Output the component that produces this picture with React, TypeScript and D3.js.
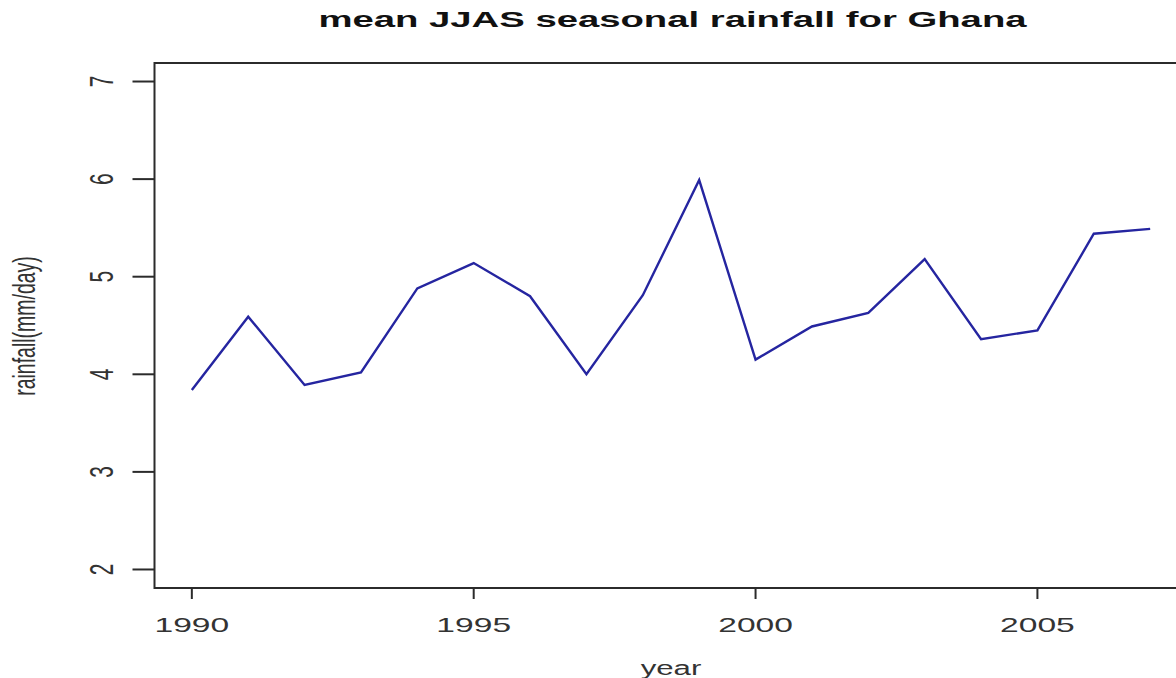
import React from "react";
import * as d3 from "d3";

// Seasonal (June–September) mean rainfall, mm/day
const years: number[] = [1990, 1991, 1992, 1993, 1994, 1995, 1996, 1997, 1998, 1999, 2000, 2001, 2002, 2003, 2004, 2005, 2006, 2007];
const rainfall: number[] = [3.84, 4.59, 3.89, 4.02, 4.88, 5.14, 4.80, 4.00, 4.81, 5.99, 4.15, 4.49, 4.63, 5.18, 4.36, 4.45, 5.44, 5.49];
const xTicks: number[] = [1990, 1995, 2000, 2005];
const yTicks: number[] = [2, 3, 4, 5, 6, 7];
const yLimits: [number, number] = [2, 7];

const W = 1176;
const H = 678;
const FONT = "'Liberation Sans', Arial, Helvetica, sans-serif";
const SX = 1.6; // horizontal stretch of the glyphs

export default function App() {
  const plot = { left: 153.5, right: 1188.5, top: 62, bottom: 589 };

  // R-style 4% extension of the axis ranges
  const xExt = d3.extent(years) as [number, number];
  const xPad = (xExt[1] - xExt[0]) * 0.04;
  const yPad = (yLimits[1] - yLimits[0]) * 0.04;

  const x = d3.scaleLinear().domain([xExt[0] - xPad, xExt[1] + xPad]).range([plot.left, plot.right]);
  const y = d3.scaleLinear().domain([yLimits[0] - yPad, yLimits[1] + yPad]).range([plot.bottom, plot.top]);

  const line = d3
    .line<number>()
    .x((_, i) => x(years[i]))
    .y((d) => y(d));

  const axisColor = "#2b2b2b";
  const labelColor = "#333";

  return (
    <svg
      width={W}
      height={H}
      viewBox={`0 0 ${W} ${H}`}
      style={{ position: "fixed", left: 0, top: 0, background: "#fff", display: "block" }}
    >
      <rect x={0} y={0} width={W} height={H} fill="#fff" />

      {/* title */}
      <text
        transform={`translate(672.5,27.3) scale(1.74,1)`}
        textAnchor="middle"
        fontFamily={FONT}
        fontWeight="bold"
        fontSize={22}
        fill="#111"
      >
        mean JJAS seasonal rainfall for Ghana
      </text>

      {/* series */}
      <path d={line(rainfall) ?? ""} fill="none" stroke="#2525a0" strokeWidth={2.4} strokeLinejoin="miter" />

      {/* plot box */}
      <rect
        x={plot.left + 1}
        y={plot.top + 1}
        width={plot.right - plot.left - 2}
        height={plot.bottom - plot.top - 2}
        fill="none"
        stroke={axisColor}
        strokeWidth={2}
      />

      {/* x axis */}
      {xTicks.map((t) => (
        <g key={`xt${t}`}>
          <line x1={x(t)} x2={x(t)} y1={plot.bottom - 1} y2={plot.bottom + 10} stroke={axisColor} strokeWidth={2} />
          <text
            transform={`translate(${x(t)},632) scale(${SX},1)`}
            textAnchor="middle"
            fontFamily={FONT}
            fontSize={21}
            fill={labelColor}
          >
            {t}
          </text>
        </g>
      ))}

      {/* y axis */}
      {yTicks.map((t) => (
        <g key={`yt${t}`}>
          <line x1={plot.left - 21} x2={plot.left + 1} y1={y(t)} y2={y(t)} stroke={axisColor} strokeWidth={2} />
          <text
            transform={`translate(113,${y(t)}) scale(${SX},1) rotate(-90)`}
            textAnchor="middle"
            fontFamily={FONT}
            fontSize={21}
            fill={labelColor}
          >
            {t}
          </text>
        </g>
      ))}

      {/* axis titles */}
      <text
        transform={`translate(671,674.5) scale(${SX},1)`}
        textAnchor="middle"
        fontFamily={FONT}
        fontSize={19.5}
        fill={labelColor}
      >
        year
      </text>
      <text
        transform={`translate(35,326) scale(${SX},1) rotate(-90)`}
        textAnchor="middle"
        fontFamily={FONT}
        fontSize={19.5}
        fill={labelColor}
      >
        rainfall(mm/day)
      </text>
    </svg>
  );
}
